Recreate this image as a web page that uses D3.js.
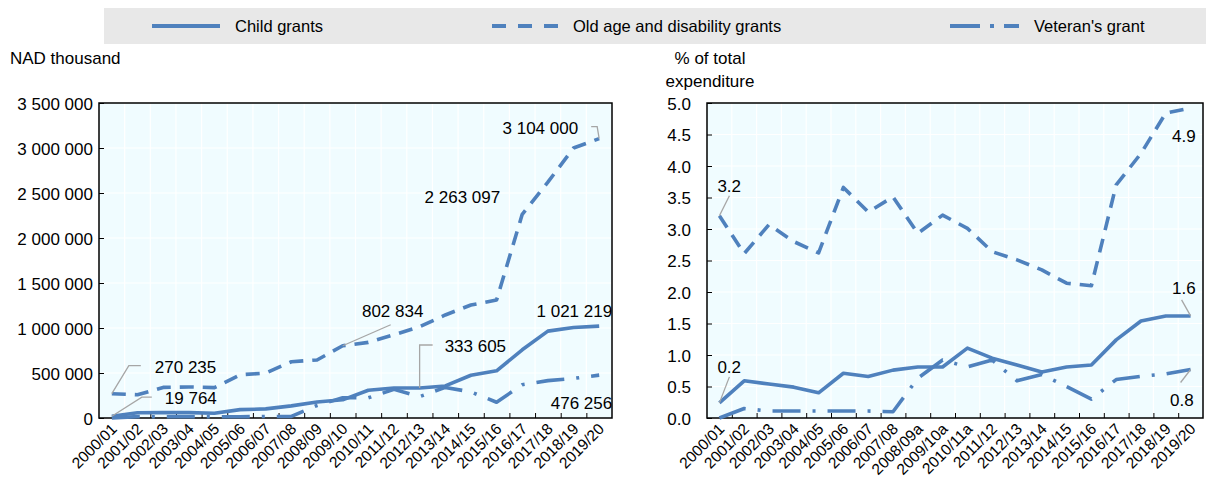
<!DOCTYPE html>
<html>
<head>
<meta charset="utf-8">
<script src="https://cdn.jsdelivr.net/npm/d3@7"></script>
<style>
body { margin: 0; background: #fff; }
text { font-family: "Liberation Sans", Arial, sans-serif; fill: #000; }
</style>
</head>
<body>
<svg id="chart" width="1206" height="484"></svg>
<script>
// categories
var years = ["2000/01","2001/02","2002/03","2003/04","2004/05","2005/06","2006/07","2007/08","2008/09","2009/10",
  "2010/11","2011/12","2012/13","2013/14","2014/15","2015/16","2016/17","2017/18","2018/19","2019/20"];
var yearsPct = ["2000/01","2001/02","2002/03","2003/04","2004/05","2005/06","2006/07","2007/08","2008/09a","2009/10a",
  "2010/11a","2011/12","2012/13","2013/14","2014/15","2015/16","2016/17","2017/18","2018/19","2019/20"];

// NAD thousand
var childNad = [19764, 58000, 60000, 60000, 52000, 93000, 101000, 135000, 178000, 202000,
  308000, 333000, 333605, 356000, 475000, 524000, 758000, 965000, 1005000, 1021219];
var oldNad = [270235, 258000, 340000, 345000, 338000, 480000, 500000, 625000, 645000, 802834,
  840000, 925000, 1015000, 1145000, 1255000, 1310000, 2263097, 2620000, 3000000, 3104000];
var vetNad = [0, 15000, 13000, 14000, 14000, 14000, 17000, 18000, 139000, 225000,
  224000, 318000, 238000, 340000, 290000, 175000, 370000, 415000, 440000, 476256];

// % of total expenditure
var childPct = [0.24, 0.59, 0.54, 0.49, 0.40, 0.71, 0.66, 0.76, 0.81, 0.81,
  1.11, 0.95, 0.84, 0.73, 0.81, 0.84, 1.24, 1.54, 1.62, 1.62];
var oldPct = [3.21, 2.61, 3.07, 2.80, 2.62, 3.66, 3.27, 3.51, 2.93, 3.22,
  3.01, 2.64, 2.51, 2.35, 2.14, 2.10, 3.70, 4.20, 4.84, 4.92];
var vetPct = [0.0, 0.15, 0.11, 0.11, 0.11, 0.11, 0.11, 0.10, 0.63, 0.92,
  0.81, 0.92, 0.59, 0.69, 0.50, 0.30, 0.61, 0.66, 0.70, 0.77];

var nadTicks = [0, 500000, 1000000, 1500000, 2000000, 2500000, 3000000, 3500000];
var pctTicks = [0, 0.5, 1, 1.5, 2, 2.5, 3, 3.5, 4, 4.5, 5];

var seriesNames = ["Child grants", "Old age and disability grants", "Veteran's grant"];

var blue = "#4f81bd";
var dashes = [null, "14,9", "28,12,3,12"];
var fs = "17px";

var svg = d3.select("#chart");

// legend
svg.append("rect").attr("x", 104).attr("y", 8).attr("width", 1102).attr("height", 36).attr("fill", "#e8e8e8");
var legendX = [[152, 220, 235], [492, 558, 573], [950, 1019, 1034]];
var legendDash = [null, "14,12", "30,10,4,10"];
seriesNames.forEach(function(name, i) {
  svg.append("line")
    .attr("x1", legendX[i][0]).attr("x2", legendX[i][1])
    .attr("y1", 26).attr("y2", 26)
    .attr("stroke", blue).attr("stroke-width", 4)
    .attr("stroke-dasharray", legendDash[i]);
  svg.append("text")
    .attr("x", legendX[i][2]).attr("y", 32)
    .style("font-size", "16.5px")
    .text(name);
});

var fmtNad = function(d) { return d3.format(",")(d).replace(/,/g, " "); };

function drawPanel(opt) {
  var x0 = opt.left, x1 = opt.right, y0 = 103, y1 = 418;
  var xBand = d3.scaleBand().domain(opt.cats).range([x0, x1]);
  var xIdx = d3.scaleLinear().domain([0, opt.cats.length]).range([x0, x1]);
  var cx = function(i) { return xBand(opt.cats[i]) + xBand.bandwidth() / 2; };
  var y = d3.scaleLinear().domain(opt.domain).range([y1, y0]);

  var g = svg.append("g");
  g.append("rect").attr("x", x0).attr("y", y0).attr("width", x1 - x0).attr("height", y1 - y0)
    .attr("fill", "#f0fcff");

  // gridlines
  g.selectAll(".vg").data(d3.range(1, opt.cats.length)).enter().append("line")
    .attr("x1", function(d) { return xIdx(d); }).attr("x2", function(d) { return xIdx(d); })
    .attr("y1", y0).attr("y2", y1).attr("stroke", "#fff").attr("stroke-width", 1.2);
  g.selectAll(".hg").data(opt.ticks.slice(1, -1)).enter().append("line")
    .attr("x1", x0).attr("x2", x1)
    .attr("y1", function(d) { return y(d); }).attr("y2", function(d) { return y(d); })
    .attr("stroke", "#fff").attr("stroke-width", 1.2);

  // y axis
  var yAxis = g.append("g").attr("transform", "translate(" + x0 + ",0)")
    .call(d3.axisLeft(y).tickValues(opt.ticks).tickFormat(opt.fmt).tickSize(-5).tickPadding(opt.pad));
  yAxis.select(".domain").remove();
  yAxis.selectAll("text").style("font-size", fs).attr("dy", "0.36em");
  yAxis.selectAll("line").attr("stroke", "#000");

  // x axis ticks at category boundaries
  var xTicks = g.append("g").attr("transform", "translate(0," + y1 + ")")
    .call(d3.axisBottom(xIdx).tickValues(d3.range(1, opt.cats.length)).tickSize(-5).tickFormat(""));
  xTicks.select(".domain").remove();
  xTicks.selectAll("line").attr("stroke", "#000");

  // x labels
  var xAxis = g.append("g").attr("transform", "translate(0," + y1 + ")")
    .call(d3.axisBottom(xBand).tickSize(0).tickPadding(0));
  xAxis.select(".domain").remove();
  xAxis.selectAll("text")
    .style("font-size", "15.5px")
    .attr("text-anchor", "end")
    .attr("dy", 0)
    .attr("transform", "translate(6,12) rotate(-45)");

  // frame
  g.append("rect").attr("x", x0).attr("y", y0).attr("width", x1 - x0).attr("height", y1 - y0)
    .attr("fill", "none").attr("stroke", "#000").attr("stroke-width", 1.5);

  // lines
  var line = d3.line().x(function(d, i) { return cx(i); }).y(function(d) { return y(d); });
  opt.series.forEach(function(s, k) {
    g.append("path").datum(s)
      .attr("d", line)
      .attr("fill", "none")
      .attr("stroke", blue)
      .attr("stroke-width", 3.6)
      .attr("stroke-linejoin", "round")
      .attr("stroke-dasharray", dashes[k]);
  });

  // labels
  opt.labels.forEach(function(l) {
    var si = l.s, ci = l.i;
    var px = cx(ci), py = y(opt.series[si][ci]);
    if (l.leader) {
      var pts = l.leader.map(function(p) { return [px + p[0], py + p[1]]; });
      pts.unshift([px, py]);
      g.append("path").attr("d", d3.line()(pts)).attr("fill", "none")
        .attr("stroke", "#a6a6a6").attr("stroke-width", 1.3);
    }
    g.append("text")
      .attr("x", px + l.dx).attr("y", py + l.dy)
      .attr("text-anchor", l.anchor || "start")
      .style("font-size", fs)
      .text(opt.lfmt(opt.series[si][ci]));
  });

  return g;
}

drawPanel({
  left: 99, right: 612, cats: years,
  domain: [0, 3500000], ticks: nadTicks, fmt: fmtNad, pad: 6, lfmt: fmtNad,
  series: [childNad, oldNad, vetNad],
  labels: [
    { s: 1, i: 0, leader: [[17, -28], [29, -28]], dx: 43, dy: -21 },
    { s: 0, i: 0, leader: [[30, -19], [40, -19]], dx: 53, dy: -12 },
    { s: 1, i: 9, leader: [[48, -21]], dx: 50, dy: -29, anchor: "middle" },
    { s: 0, i: 12, leader: [[0, -43], [13, -43]], dx: 25, dy: -36 },
    { s: 1, i: 16, dx: -22, dy: -11, anchor: "end" },
    { s: 2, i: 19, dx: 13, dy: 34, anchor: "end" },
    { s: 0, i: 19, dx: 13, dy: -9, anchor: "end" },
    { s: 1, i: 19, leader: [[-2, -12], [-8, -12]], dx: -21, dy: -5, anchor: "end" }
  ]
});

drawPanel({
  left: 707, right: 1203, cats: yearsPct,
  domain: [0, 5], ticks: pctTicks, fmt: d3.format(".1f"), pad: 16, lfmt: d3.format(".1f"),
  series: [childPct, oldPct, vetPct],
  labels: [
    { s: 1, i: 0, leader: [[10, -20]], dx: -2, dy: -24 },
    { s: 0, i: 0, leader: [[10, -26]], dx: -2, dy: -30 },
    { s: 1, i: 19, dx: 5, dy: 34, anchor: "end" },
    { s: 0, i: 19, leader: [[-9, -16]], dx: 5, dy: -22, anchor: "end" },
    { s: 2, i: 19, leader: [[-10, 13]], dx: 3, dy: 37, anchor: "end" }
  ]
});

// axis titles
svg.append("text").attr("x", 10).attr("y", 64).style("font-size", fs).text("NAD thousand");
svg.append("text").attr("x", 710).attr("y", 64).attr("text-anchor", "middle").style("font-size", fs).text("% of total");
svg.append("text").attr("x", 710).attr("y", 87).attr("text-anchor", "middle").style("font-size", fs).text("expenditure");
</script>
</body>
</html>
